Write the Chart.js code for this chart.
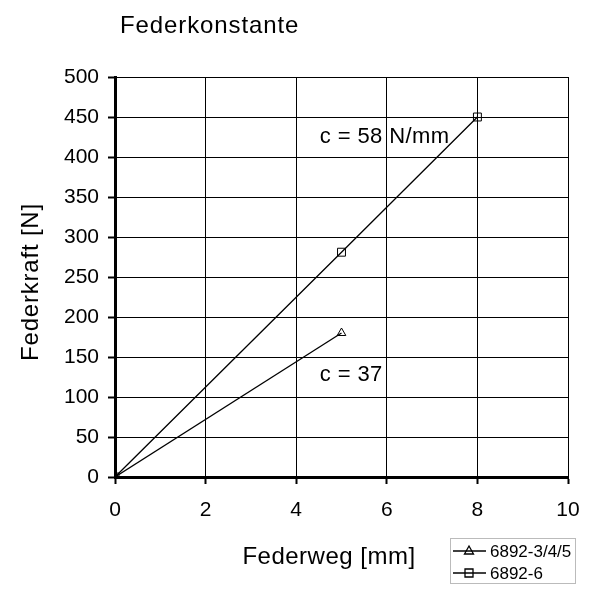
<!DOCTYPE html>
<html>
<head>
<meta charset="utf-8">
<title>Federkonstante</title>
<script src="https://cdn.jsdelivr.net/npm/chart.js@4"></script>
<style>
  body { margin: 0; background: #fff; }
  #chart { display: block; }
</style>
</head>
<body>
<canvas id="chart" width="600" height="600"></canvas>
<script>
// Data
const seriesNames = ['6892-3/4/5', '6892-6'];
const wegA = [0, 5];
const kraftA = [0, 180];
const wegB = [0, 5, 8];
const kraftB = [0, 281, 450];
const notes = ['c = 58 N/mm', 'c = 37'];

const FONT = '"Liberation Sans", Arial, sans-serif';

function toPoints(xs, ys) {
    return xs.map((x, i) => ({ x: x, y: ys[i] }));
}

// Draw a marker for the legend
function drawMarker(ctx, style, x, y) {
    ctx.beginPath();
    if (style === 'triangle') {
        ctx.moveTo(x, y - 5);
        ctx.lineTo(x + 4.5, y + 3);
        ctx.lineTo(x - 4.5, y + 3);
        ctx.closePath();
    } else {
        ctx.rect(x - 4, y - 4, 8, 8);
    }
    ctx.stroke();
}

// Title, axis titles, notes and legend
const extras = {
    id: 'extras',
    afterDraw(chart) {
        const ctx = chart.ctx;
        const xs = chart.scales.x;
        const ys = chart.scales.y;
        ctx.save();
        ctx.fillStyle = '#000';
        ctx.textBaseline = 'middle';

        // title
        ctx.font = '24px ' + FONT;
        ctx.letterSpacing = '0.9px';
        ctx.textAlign = 'left';
        ctx.fillText('Federkonstante', 120, 26);

        // axis titles
        ctx.letterSpacing = '0.5px';
        ctx.textAlign = 'center';
        ctx.fillText('Federweg [mm]', 329, 557);
        ctx.save();
        ctx.translate(31, 282);
        ctx.rotate(-Math.PI / 2);
        ctx.letterSpacing = '0.8px';
        ctx.fillText('Federkraft [N]', 0, 0);
        ctx.restore();

        // notes next to the lines
        ctx.font = '22px ' + FONT;
        ctx.letterSpacing = '0.4px';
        ctx.textAlign = 'left';
        ctx.fillText(notes[0], xs.getPixelForValue(4.52), ys.getPixelForValue(425));
        ctx.fillText(notes[1], xs.getPixelForValue(4.52), ys.getPixelForValue(127));
        ctx.letterSpacing = '0px';

        // legend box
        ctx.strokeStyle = '#bbb';
        ctx.lineWidth = 1;
        ctx.strokeRect(450.5, 538.5, 125, 45);
        ctx.font = '17px ' + FONT;
        chart.data.datasets.forEach((ds, i) => {
            const y = 551 + i * 22;
            ctx.strokeStyle = '#000';
            ctx.lineWidth = 1.3;
            ctx.beginPath();
            ctx.moveTo(453, y);
            ctx.lineTo(486, y);
            ctx.stroke();
            drawMarker(ctx, ds.pointStyle, 469, y);
            ctx.fillText(ds.label, 490, y + 1);
        });
        ctx.restore();
    }
};

const ctx = document.getElementById('chart').getContext('2d');
const chart = new Chart(ctx, {
    type: 'scatter',
    data: {
        datasets: [{
            label: seriesNames[0],
            data: toPoints(wegA, kraftA),
            showLine: true,
            borderColor: '#000',
            borderWidth: 1.3,
            pointStyle: 'triangle',
            pointRadius: 5,
            pointBorderWidth: 1,
            pointBorderColor: '#000',
            pointBackgroundColor: 'rgba(0,0,0,0)'
        }, {
            label: seriesNames[1],
            data: toPoints(wegB, kraftB),
            showLine: true,
            borderColor: '#000',
            borderWidth: 1.3,
            pointStyle: 'rect',
            pointRadius: 5.6,
            pointBorderWidth: 1,
            pointBorderColor: '#000',
            pointBackgroundColor: 'rgba(0,0,0,0)'
        }]
    },
    options: {
        responsive: false,
        animation: false,
        layout: { padding: { top: 77, right: 32, left: 0, bottom: 0 } },
        plugins: {
            legend: { display: false },
            title: { display: false },
            tooltip: { enabled: false }
        },
        scales: {
            x: {
                type: 'linear',
                min: 0,
                max: 10,
                afterFit: (s) => { s.height = 123; },
                ticks: { stepSize: 2, color: '#000', padding: 14, font: { family: FONT, size: 21 } },
                grid: { color: '#000', lineWidth: 1, tickLength: 7, tickWidth: 2, tickColor: '#000' },
                border: { color: '#000', width: 3 }
            },
            y: {
                type: 'linear',
                min: 0,
                max: 500,
                afterFit: (s) => { s.width = 115; },
                ticks: { stepSize: 50, color: '#000', padding: 9, font: { family: FONT, size: 21 } },
                grid: { color: '#000', lineWidth: 1, tickLength: 7, tickWidth: 2, tickColor: '#000' },
                border: { color: '#000', width: 3 }
            }
        }
    },
    plugins: [extras]
});
</script>
</body>
</html>
